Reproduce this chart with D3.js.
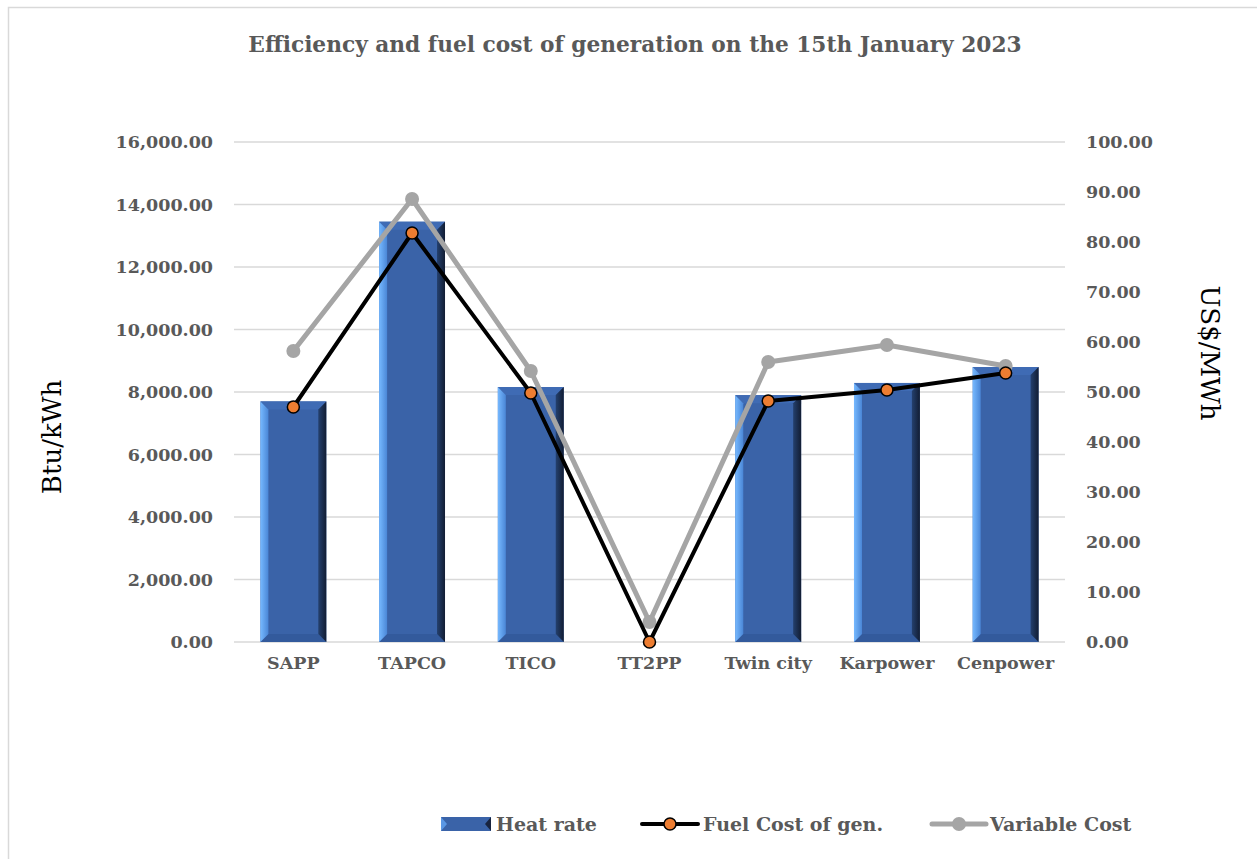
<!DOCTYPE html>
<html>
<head>
<meta charset="utf-8">
<script src="https://cdn.jsdelivr.net/npm/d3@7"></script>
<style>
  body { margin: 0; background: #fff; }
  text { font-family: "DejaVu Serif", "Liberation Serif", serif; }
</style>
</head>
<body>
<div id="chart"></div>
<script>
let w = 1257;
let h = 859;

// data
let plants = ["SAPP", "TAPCO", "TICO", "TT2PP", "Twin city", "Karpower", "Cenpower"];
let heatRate = [7700, 13450, 8160, 0, 7900, 8290, 8800];
let fuelCost = [47.0, 81.8, 49.8, 0.0, 48.2, 50.4, 53.8];
let variableCost = [58.2, 88.6, 54.2, 4.0, 56.0, 59.4, 55.2];
let leftTicks = [0, 2000, 4000, 6000, 8000, 10000, 12000, 14000, 16000];
let rightTicks = [0, 10, 20, 30, 40, 50, 60, 70, 80, 90, 100];

let plotLeft = 234, plotRight = 1065, plotTop = 142, plotBottom = 642;
let grey = "#595959";

let svg = d3.select("#chart").append("svg")
    .attr("width", w)
    .attr("height", h);

// chart border (only top and left show in the crop)
svg.append("rect")
    .attr("x", 8.5).attr("y", 7.5)
    .attr("width", w + 20).attr("height", h + 20)
    .attr("fill", "#fff")
    .attr("stroke", "#d9d9d9")
    .attr("stroke-width", 1.5);

let x = d3.scaleBand().domain(plants).range([plotLeft, plotRight]).paddingInner(0.445).paddingOuter(0.2225);
let yL = d3.scaleLinear().domain([0, 16000]).range([plotBottom, plotTop]);
let yR = d3.scaleLinear().domain([0, 100]).range([plotBottom, plotTop]);

// gridlines
svg.append("g").selectAll("line").data(leftTicks).enter().append("line")
    .attr("x1", plotLeft).attr("x2", plotRight)
    .attr("y1", d => yL(d)).attr("y2", d => yL(d))
    .attr("stroke", "#d9d9d9").attr("stroke-width", 1.5);

// left axis
let fmt = d3.format(",.2f");
let yAxisL = d3.axisLeft(yL).tickValues(leftTicks).tickFormat(fmt).tickSize(0).tickPadding(21);
let gL = svg.append("g").attr("transform", "translate(" + plotLeft + ",0)").call(yAxisL);
gL.select(".domain").remove();
gL.selectAll("text").attr("fill", grey).style("font-size", "17.5px").style("font-weight", "bold");

// right axis
let yAxisR = d3.axisRight(yR).tickValues(rightTicks).tickFormat(fmt).tickSize(0).tickPadding(21);
let gR = svg.append("g").attr("transform", "translate(" + plotRight + ",0)").call(yAxisR);
gR.select(".domain").remove();
gR.selectAll("text").attr("fill", grey).style("font-size", "17.5px").style("font-weight", "bold");

// category axis
let xAxis = d3.axisBottom(x).tickSize(0).tickPadding(15);
let gX = svg.append("g").attr("transform", "translate(0," + plotBottom + ")").call(xAxis);
gX.select(".domain").remove();
gX.selectAll("text").attr("fill", grey).style("font-size", "17.5px").style("font-weight", "bold");

// gradients for the bevelled bars
let defs = svg.append("defs");
let gLeft = defs.append("linearGradient").attr("id", "bevL");
gLeft.append("stop").attr("offset", "0%").attr("stop-color", "#76b9ff");
gLeft.append("stop").attr("offset", "100%").attr("stop-color", "#4a86d6");
let gRight = defs.append("linearGradient").attr("id", "bevR");
gRight.append("stop").attr("offset", "0%").attr("stop-color", "#24406e");
gRight.append("stop").attr("offset", "100%").attr("stop-color", "#121d33");

let bev = 8;
let bars = svg.append("g").selectAll("g").data(plants).enter().append("g")
    .filter((d, i) => heatRate[i] > 0);

bars.each(function(d) {
    let i = plants.indexOf(d);
    let g = d3.select(this);
    let x0 = x(d), x1 = x(d) + x.bandwidth();
    let y0 = yL(heatRate[i]), y1 = yL(0);
    g.append("rect").attr("x", x0).attr("y", y0).attr("width", x1 - x0).attr("height", y1 - y0).attr("fill", "#3a63a8");
    // top
    g.append("polygon").attr("points", [[x0, y0], [x1, y0], [x1 - bev, y0 + bev], [x0 + bev, y0 + bev]].join(" "))
        .attr("fill", "#3f6bb4");
    // bottom
    g.append("polygon").attr("points", [[x0, y1], [x1, y1], [x1 - bev, y1 - bev], [x0 + bev, y1 - bev]].join(" "))
        .attr("fill", "#335a9c");
    // left
    g.append("polygon").attr("points", [[x0, y0], [x0 + bev, y0 + bev], [x0 + bev, y1 - bev], [x0, y1]].join(" "))
        .attr("fill", "url(#bevL)");
    // right
    g.append("polygon").attr("points", [[x1, y0], [x1 - bev, y0 + bev], [x1 - bev, y1 - bev], [x1, y1]].join(" "))
        .attr("fill", "url(#bevR)");
});

let cx = d => x(d) + x.bandwidth() / 2;

// variable cost line
let lineV = d3.line().x((d, i) => cx(plants[i])).y(d => yR(d));
svg.append("path").datum(variableCost)
    .attr("d", lineV).attr("fill", "none")
    .attr("stroke", "#a5a5a5").attr("stroke-width", 5).attr("stroke-linejoin", "round");
svg.append("g").selectAll("circle").data(variableCost).enter().append("circle")
    .attr("cx", (d, i) => cx(plants[i])).attr("cy", d => yR(d)).attr("r", 7)
    .attr("fill", "#a5a5a5");

// fuel cost line
svg.append("path").datum(fuelCost)
    .attr("d", lineV).attr("fill", "none")
    .attr("stroke", "#000").attr("stroke-width", 4).attr("stroke-linejoin", "round");
svg.append("g").selectAll("circle").data(fuelCost).enter().append("circle")
    .attr("cx", (d, i) => cx(plants[i])).attr("cy", d => yR(d)).attr("r", 6)
    .attr("fill", "#ed7d31").attr("stroke", "#000").attr("stroke-width", 1.5);

// title
svg.append("text")
    .attr("x", 635).attr("y", 52)
    .attr("text-anchor", "middle")
    .attr("fill", grey)
    .style("font-size", "21.7px").style("font-weight", "bold")
    .text("Efficiency and fuel cost of generation on the 15th January 2023");

// axis titles
svg.append("text")
    .attr("transform", "translate(61,437) rotate(-90)")
    .attr("text-anchor", "middle")
    .style("font-size", "26px")
    .text("Btu/kWh");
svg.append("text")
    .attr("transform", "translate(1201,353) rotate(90)")
    .attr("text-anchor", "middle")
    .style("font-size", "26px")
    .text("US$/MWh");

// legend
let ly = 824;
let leg = svg.append("g");
// heat rate swatch
leg.append("rect").attr("x", 441).attr("y", ly - 7).attr("width", 50).attr("height", 14).attr("fill", "#3a63a8");
leg.append("polygon").attr("points", [[441, ly - 7], [447, ly], [441, ly + 7]].join(" ")).attr("fill", "#5a97e4");
leg.append("polygon").attr("points", [[491, ly - 7], [485, ly], [491, ly + 7]].join(" ")).attr("fill", "#18243f");
leg.append("text").attr("x", 496).attr("y", ly + 7).attr("fill", grey)
    .style("font-size", "19px").style("font-weight", "bold").text("Heat rate");
// fuel cost swatch
leg.append("line").attr("x1", 642).attr("x2", 698).attr("y1", ly).attr("y2", ly)
    .attr("stroke", "#000").attr("stroke-width", 4).attr("stroke-linecap", "round");
leg.append("circle").attr("cx", 670).attr("cy", ly).attr("r", 6)
    .attr("fill", "#ed7d31").attr("stroke", "#000").attr("stroke-width", 1.5);
leg.append("text").attr("x", 703).attr("y", ly + 7).attr("fill", grey)
    .style("font-size", "19px").style("font-weight", "bold").text("Fuel Cost of gen.");
// variable cost swatch
leg.append("line").attr("x1", 932).attr("x2", 986).attr("y1", ly).attr("y2", ly)
    .attr("stroke", "#a5a5a5").attr("stroke-width", 5).attr("stroke-linecap", "round");
leg.append("circle").attr("cx", 959).attr("cy", ly).attr("r", 7).attr("fill", "#a5a5a5");
leg.append("text").attr("x", 990).attr("y", ly + 7).attr("fill", grey)
    .style("font-size", "19px").style("font-weight", "bold").text("Variable Cost");
</script>
</body>
</html>
